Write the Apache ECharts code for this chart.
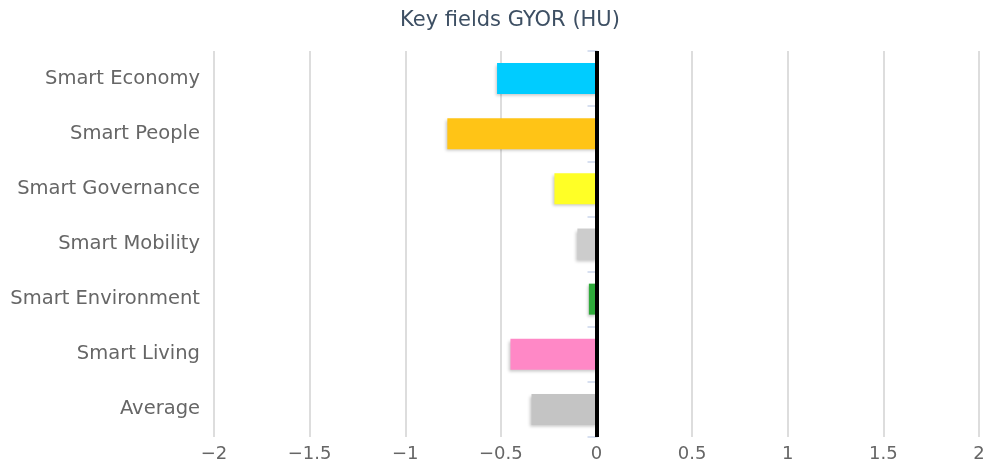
<!DOCTYPE html>
<html>
<head>
<meta charset="utf-8">
<script src="https://cdn.jsdelivr.net/npm/echarts@6/dist/echarts.min.js"></script>
<style>
  html, body { margin: 0; padding: 0; background: #fff; }
  #chart { width: 989px; height: 467px; }
</style>
</head>
<body>
<div id="chart"></div>
<script>
// 类别与数值
var categories = ["Smart Economy", "Smart People", "Smart Governance", "Smart Mobility",
  "Smart Environment", "Smart Living", "Average"];
var values = [-0.52, -0.78, -0.22, -0.10, -0.04, -0.45, -0.34];
var barColors = ["#00ccff", "#ffc416", "#ffff26", "#cccccc", "#2eaa3a", "#ff88c6", "#c4c4c4"];
var xTicks = [-2, -1.5, -1, -0.5, 0, 0.5, 1, 1.5, 2];

var chart = echarts.init(document.getElementById("chart"));
chart.setOption({
  animation: false,
  title: {
    text: "Key fields GYOR (HU)",
    left: 395,
    top: 5,
    textStyle: { fontFamily: "DejaVu Sans", fontSize: 21, fontWeight: "normal", color: "#3d4f63" }
  },
  grid: { left: 214, right: 10, top: 51, bottom: 30 },
  xAxis: {
    type: "value",
    min: xTicks[0],
    max: xTicks[xTicks.length - 1],
    interval: 0.5,
    axisLine: { show: false },
    axisTick: { show: false },
    axisLabel: {
      margin: 8,
      fontFamily: "DejaVu Sans",
      fontSize: 18,
      color: "#666",
      formatter: function (v) { return String(v).replace("-", "\u2212"); }
    },
    splitLine: { show: true, lineStyle: { color: "#d2d2d2", width: 1.5 } }
  },
  yAxis: {
    type: "category",
    data: categories,
    inverse: true,
    axisLine: { show: true, lineStyle: { color: "#ccd6eb", width: 1.5 } },
    axisTick: { show: true, length: 9, lineStyle: { color: "#ccd6eb", width: 1.5 } },
    axisLabel: { margin: 14, fontFamily: "DejaVu Sans", fontSize: 19.5, color: "#666" }
  },
  series: [{
    type: "bar",
    barWidth: 31,
    data: values.map(function (v, i) {
      return { value: v, itemStyle: { color: barColors[i] } };
    }),
    itemStyle: {
      shadowColor: "rgba(0,0,0,0.22)",
      shadowBlur: 3,
      shadowOffsetX: -1,
      shadowOffsetY: 2
    },
    markLine: {
      silent: true,
      symbol: "none",
      label: { show: false },
      lineStyle: { color: "#000", width: 4, type: "solid" },
      data: [{ xAxis: 0 }]
    }
  }]
});
</script>
</body>
</html>
